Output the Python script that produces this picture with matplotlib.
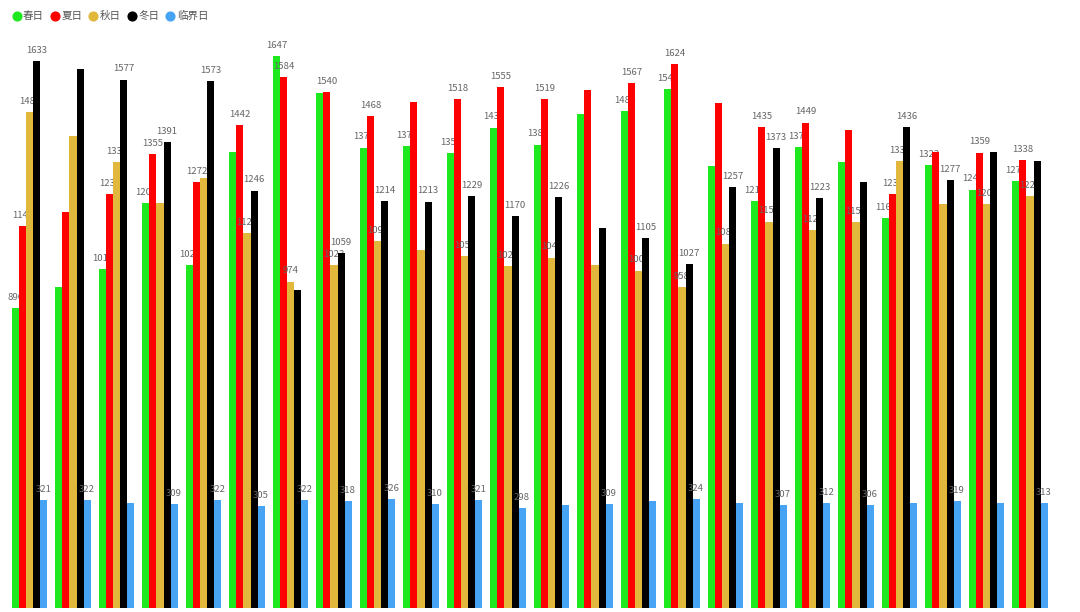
import numpy as np
import matplotlib
matplotlib.use('Agg')
from matplotlib import pyplot as plt
from matplotlib.lines import Line2D

plt.rcParams['font.family'] = ['Noto Sans CJK SC', 'DejaVu Sans']

categories = ['1', '2', '3', '4', '5', '6', '7', '8', '9', '10', '11', '12',
              '13', '14', '15', '16', '17', '18', '19', '20', '21', '22', '23', '24']
series_names = ['春日', '夏日', '秋日', '冬日', '临界日']

spring = [896, 958, 1012, 1209, 1024, 1362, 1647, 1537, 1374, 1379, 1358, 1434,
          1383, 1475, 1484, 1549, 1319, 1214, 1376, 1332, 1164, 1323, 1249, 1275]
summer = [1140, 1181, 1236, 1355, 1272, 1442, 1584, 1540, 1468, 1510, 1518, 1555,
          1519, 1545, 1567, 1624, 1508, 1435, 1449, 1426, 1236, 1360, 1359, 1338]
autumn = [1481, 1409, 1332, 1208, 1283, 1120, 974, 1023, 1095, 1068, 1051, 1021,
          1046, 1024, 1007, 958, 1088, 1153, 1128, 1152, 1335, 1206, 1205, 1229]
winter = [1633, 1608, 1577, 1391, 1573, 1246, 948, 1059, 1214, 1213, 1229, 1170,
          1226, 1133, 1105, 1027, 1257, 1373, 1223, 1271, 1436, 1277, 1360, 1335]
critical = [321, 322, 314, 309, 322, 305, 322, 318, 326, 310, 321, 298,
            308, 309, 319, 324, 313, 307, 312, 306, 313, 319, 313, 313]

# which value labels survive the overlap hiding in the original
show_spring = [1, 0, 1, 1, 1, 0, 1, 0, 1, 1, 1, 1, 1, 0, 1, 1, 0, 1, 1, 0, 1, 1, 1, 1]
show_summer = [1, 0, 1, 1, 1, 1, 1, 1, 1, 0, 1, 1, 1, 0, 1, 1, 0, 1, 1, 0, 1, 0, 1, 1]
show_autumn = [1, 0, 1, 0, 0, 1, 1, 1, 1, 0, 1, 1, 1, 0, 1, 1, 1, 1, 1, 1, 1, 0, 1, 1]
show_winter = [1, 0, 1, 1, 1, 1, 0, 1, 1, 1, 1, 1, 1, 0, 1, 1, 1, 1, 1, 0, 1, 1, 0, 0]
show_critical = [1, 1, 0, 1, 1, 1, 1, 1, 1, 1, 1, 1, 0, 1, 0, 1, 0, 1, 1, 1, 0, 1, 0, 1]

colors = ['#1ee81e', '#fe0000', '#e1b83c', '#000000', '#47a3f3']

data = [spring, summer, autumn, winter, critical]
shows = [show_spring, show_summer, show_autumn, show_winter, show_critical]

fig = plt.figure(figsize=(10.8, 6.12), dpi=100)
ax = fig.add_axes([7.75 / 1080, 4 / 612, 1044 / 1080, 603 / 612])

x = np.arange(len(categories))
w = 0.161
for j, (vals, show) in enumerate(zip(data, shows)):
    pos = x + (j - 2) * w
    ax.bar(pos, vals, width=w, color=colors[j], zorder=2 * j + 1)
    for p, v, s in zip(pos, vals, show):
        if s:
            ax.annotate(str(v), (p, v), xytext=(0, 4.5), textcoords='offset points',
                        ha='center', va='bottom', fontsize=6.9, color='#666666',
                        zorder=2 * j + 2)

ax.set_xlim(-0.5, len(categories) - 0.5)
ax.set_ylim(0, 1800)
ax.axis('off')

handles = [Line2D([], [], marker='o', linestyle='', markersize=6.3,
                  markerfacecolor=c, markeredgecolor=c) for c in colors]
fig.legend(handles, series_names, loc='upper left', bbox_to_anchor=(12.3 / 1080, 1 - 11 / 612),
           ncol=5, frameon=False, fontsize=7.6, handletextpad=0.22,
           columnspacing=0.63, handlelength=0.8, borderpad=0, borderaxespad=0,
           labelcolor='#555555')

plt.savefig('out.png', dpi=100)
